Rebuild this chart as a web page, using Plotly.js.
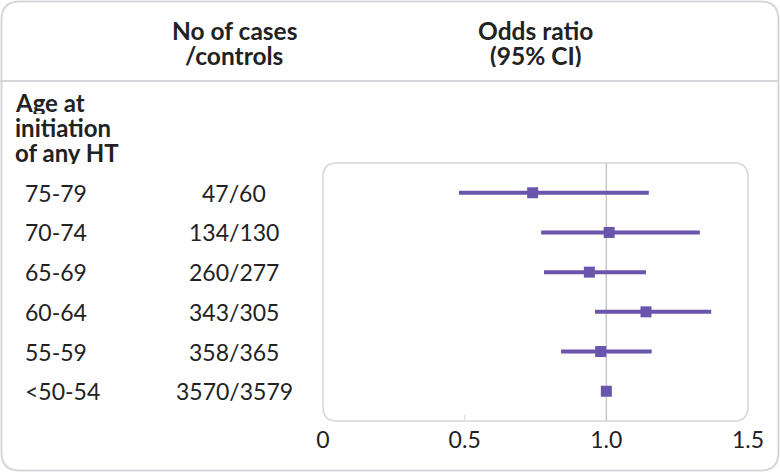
<!DOCTYPE html>
<html>
<head>
<meta charset="utf-8">
<script src="https://cdn.plot.ly/plotly-3.0.1.min.js"></script>
<style>
  html, body { margin: 0; padding: 0; background: #fff; }
  #chart { width: 780px; height: 472px; }
</style>
</head>
<body>
<div id="chart"></div>
<script>
// forest plot: odds ratio by age at initiation of any HT
const ageGroups = ["75-79", "70-74", "65-69", "60-64", "55-59", "<50-54"];
const caseControls = ["47/60", "134/130", "260/277", "343/305", "358/365", "3570/3579"];
const oddsRatio = [0.74, 1.01, 0.94, 1.14, 0.98, 1.0];
const ciLow = [0.48, 0.77, 0.78, 0.96, 0.84, 1.0];
const ciHigh = [1.15, 1.33, 1.14, 1.37, 1.16, 1.0];
const tickVals = [0, 0.5, 1.0, 1.5];
const tickText = ["0", "0.5", "1.0", "1.5"];

const W = 780, H = 472;
const purple = "#6a55ad";
const textColor = "#222222";
const borderColor = "#d6d6da";
const FONT = "Lato, 'Open Sans', sans-serif";

// pixel helpers -> paper coords
const px = (x) => x / W;
const py = (y) => 1 - y / H;

// inner plot box (pixels)
const box = { l: 323, r: 748, t: 163, b: 421 };

function roundRect(l, t, r, b, rad) {
  const x0 = px(l), x1 = px(r), y0 = py(t), y1 = py(b);
  const rx = rad / W, ry = rad / H;
  return (
    `M ${x0 + rx} ${y0} L ${x1 - rx} ${y0} Q ${x1} ${y0} ${x1} ${y0 - ry} ` +
    `L ${x1} ${y1 + ry} Q ${x1} ${y1} ${x1 - rx} ${y1} ` +
    `L ${x0 + rx} ${y1} Q ${x0} ${y1} ${x0} ${y1 + ry} ` +
    `L ${x0} ${y0 - ry} Q ${x0} ${y0} ${x0 + rx} ${y0} Z`
  );
}

const rows = ageGroups.map((_, i) => i);

const trace = {
  type: "scatter",
  mode: "markers",
  x: oddsRatio,
  y: rows,
  marker: { symbol: "square", size: 11, color: purple },
  error_x: {
    type: "data",
    symmetric: false,
    array: oddsRatio.map((v, i) => ciHigh[i] - v),
    arrayminus: oddsRatio.map((v, i) => v - ciLow[i]),
    color: purple,
    thickness: 4,
    width: 0,
  },
  hoverinfo: "skip",
  showlegend: false,
};

const annotations = [];

function label(text, x, y, opts = {}) {
  const a = {
    text,
    x,
    y,
    xref: opts.xref || "paper",
    yref: opts.yref || "paper",
    xanchor: opts.xanchor || "center",
    yanchor: "middle",
    showarrow: false,
    borderpad: 0,
    font: { family: FONT, size: opts.size || 23, color: textColor, weight: opts.bold ? 700 : 400 },
  };
  if (opts.height) a.height = opts.height;
  annotations.push(a);
}

// headers (stacked lines, tight boxes so they do not overlap)
const hdr = { bold: true, size: 24.5, height: 24 };
label("No of cases", px(234), py(30), hdr);
label("/controls", px(234), py(55), hdr);
label("Odds ratio", px(535), py(30), hdr);
label("(95% CI)", px(535), py(55), hdr);
const ageHdr = { bold: true, xanchor: "left", size: 24, height: 24 };
label("Age at", px(14), py(102), ageHdr);
label("initiation", px(14), py(127), ageHdr);
label("of any HT", px(14), py(152), ageHdr);

// row labels
ageGroups.forEach((g, i) => {
  label(g, px(24), i, { yref: "y", xanchor: "left" });
  label(caseControls[i], px(234), i, { yref: "y" });
});

const shapes = [
  // outer frame
  {
    type: "path",
    xref: "paper",
    yref: "paper",
    path: roundRect(1.5, 1.5, 778.5, 470.5, 18),
    line: { color: borderColor, width: 2 },
    layer: "below",
  },
  // header separator
  {
    type: "line",
    xref: "paper",
    yref: "paper",
    x0: 0,
    x1: px(778.5),
    y0: py(81),
    y1: py(81),
    line: { color: borderColor, width: 2 },
  },
  // inner plot box
  {
    type: "path",
    xref: "paper",
    yref: "paper",
    path: roundRect(box.l, box.t, box.r, box.b, 14),
    line: { color: borderColor, width: 1.5 },
    layer: "below",
  },
  // reference line at 1.0
  {
    type: "line",
    xref: "x",
    yref: "paper",
    x0: 1,
    x1: 1,
    y0: py(box.b),
    y1: py(box.t),
    line: { color: "#c6c6cc", width: 1.5 },
    layer: "below",
  },
  // faint tick at 0.5
  {
    type: "line",
    xref: "x",
    yref: "paper",
    x0: 0.5,
    x1: 0.5,
    y0: py(box.b),
    y1: py(box.b - 6),
    line: { color: "#e0e0e4", width: 1.5 },
    layer: "below",
  },
];

const layout = {
  width: W,
  height: H,
  margin: { l: 0, r: 0, t: 0, b: 0 },
  paper_bgcolor: "#ffffff",
  plot_bgcolor: "rgba(0,0,0,0)",
  xaxis: {
    domain: [px(box.l), px(box.r)],
    range: [0, 1.5],
    tickvals: tickVals,
    ticktext: tickText,
    showgrid: false,
    zeroline: false,
    showline: false,
    ticks: "",
    ticklabelstandoff: 3,
    tickfont: { family: FONT, size: 23, color: textColor },
    fixedrange: true,
  },
  yaxis: {
    domain: [py(box.b), py(box.t)],
    range: [5.75, -0.75],
    showgrid: false,
    zeroline: false,
    showline: false,
    showticklabels: false,
    ticks: "",
    fixedrange: true,
  },
  shapes,
  annotations,
  showlegend: false,
};

Plotly.newPlot("chart", [trace], layout, { displayModeBar: false, staticPlot: true });
</script>
</body>
</html>
